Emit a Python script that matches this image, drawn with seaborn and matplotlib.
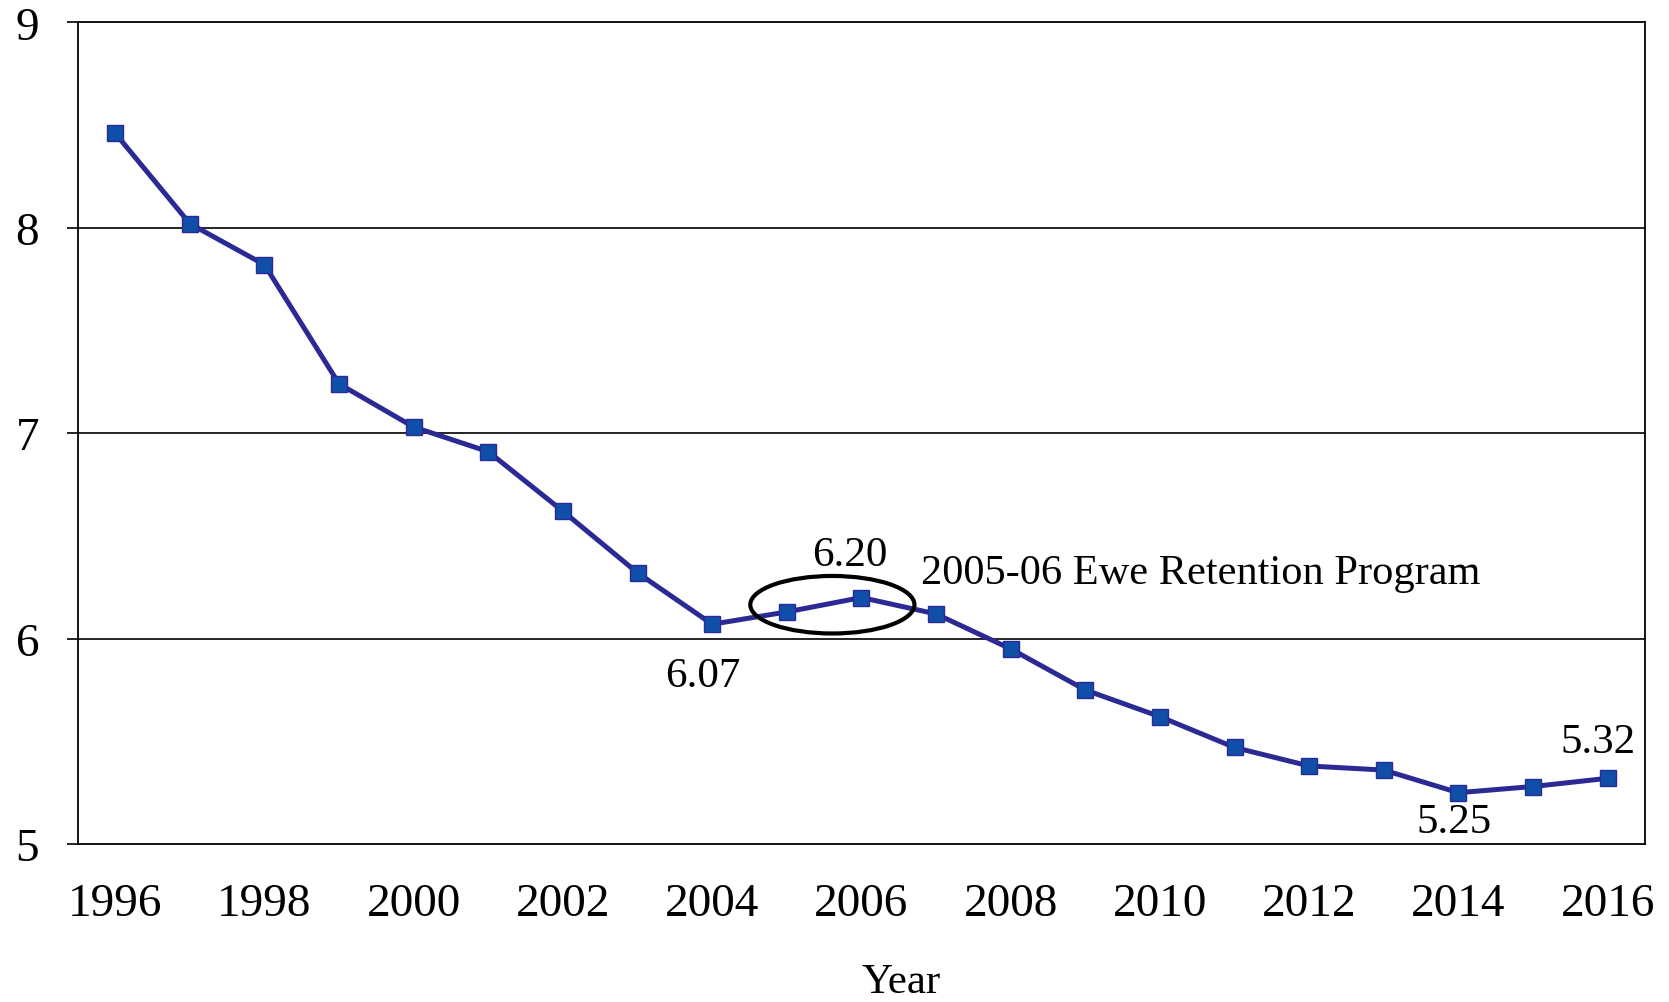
import matplotlib
matplotlib.use("Agg")
import matplotlib.pyplot as plt
from matplotlib.patches import Ellipse
import seaborn as sns
import pandas as pd

years = list(range(1996, 2017))
values = [8.46, 8.02, 7.82, 7.24, 7.03, 6.91, 6.62, 6.32, 6.07, 6.13, 6.20,
          6.12, 5.95, 5.75, 5.62, 5.47, 5.38, 5.36, 5.25, 5.28, 5.32]
xtick_labels = [str(y) for y in range(1996, 2017, 2)]
ytick_values = [5, 6, 7, 8, 9]
x_label = "Year"
annotations = [("6.20", 2006), ("6.07", 2004), ("5.25", 2014), ("5.32", 2016)]
note_text = "2005-06 Ewe Retention Program"

sns.set_style("white")
plt.rcParams['font.family'] = ['Liberation Serif', 'DejaVu Serif']
plt.rcParams['text.color'] = 'black'
plt.rcParams['xtick.color'] = 'black'
plt.rcParams['ytick.color'] = 'black'
plt.rcParams['axes.labelcolor'] = 'black'

df = pd.DataFrame({"Year": years, "Value": values})

fig = plt.figure(figsize=(16.69, 10.03), dpi=100)
ax = fig.add_axes([0.0467, 0.1575, 0.9389, 0.8192])

sns.lineplot(data=df, x="Year", y="Value", ax=ax, color="#2B2A95", linewidth=3.6,
             marker="s", markersize=11, markerfacecolor="#0F4FA8",
             markeredgecolor="#2B2A95", markeredgewidth=1.0)

ax.set_xlim(1995.5, 2016.5)
ax.set_ylim(5, 9)
ax.set_yticks(ytick_values)
ax.set_yticklabels([str(v) for v in ytick_values])
ax.set_xticks(list(range(1996, 2017, 2)))
ax.set_xticklabels(xtick_labels)
ax.tick_params(axis='y', length=8, width=1.2, color='black', direction='out',
               labelsize=34, pad=20, left=True, labelcolor='black')
ax.tick_params(axis='x', length=0, labelsize=34, pad=28, labelcolor='black')
ax.set_xlabel(x_label, fontsize=31, color='black')
ax.xaxis.set_label_coords(0.525, -0.144)
ax.set_ylabel("")

for y in [6, 7, 8]:
    ax.axhline(y, color='black', linewidth=1.2, zorder=0)

for s in ax.spines.values():
    s.set_visible(True)
    s.set_color('black')
    s.set_linewidth(1.3)

val = dict(zip(years, values))
offsets = {"6.20": (-0.15, 0.21), "6.07": (-0.12, -0.25), "5.25": (-0.06, -0.14), "5.32": (-0.13, 0.18)}
for txt, yr in annotations:
    dx, dy = offsets[txt]
    ax.text(yr + dx, val[yr] + dy, txt, fontsize=31, ha='center', va='center', color='black')

ax.text(2006.8, 6.32, note_text, fontsize=30.5, ha='left', va='center', color='black')

ell = Ellipse(((2005 + 2006) / 2 + 0.11, (val[2005] + val[2006]) / 2), width=2.2, height=0.28,
              fill=False, edgecolor='black', linewidth=3, zorder=4)
ax.add_patch(ell)

fig.savefig("out.png", dpi=100)
